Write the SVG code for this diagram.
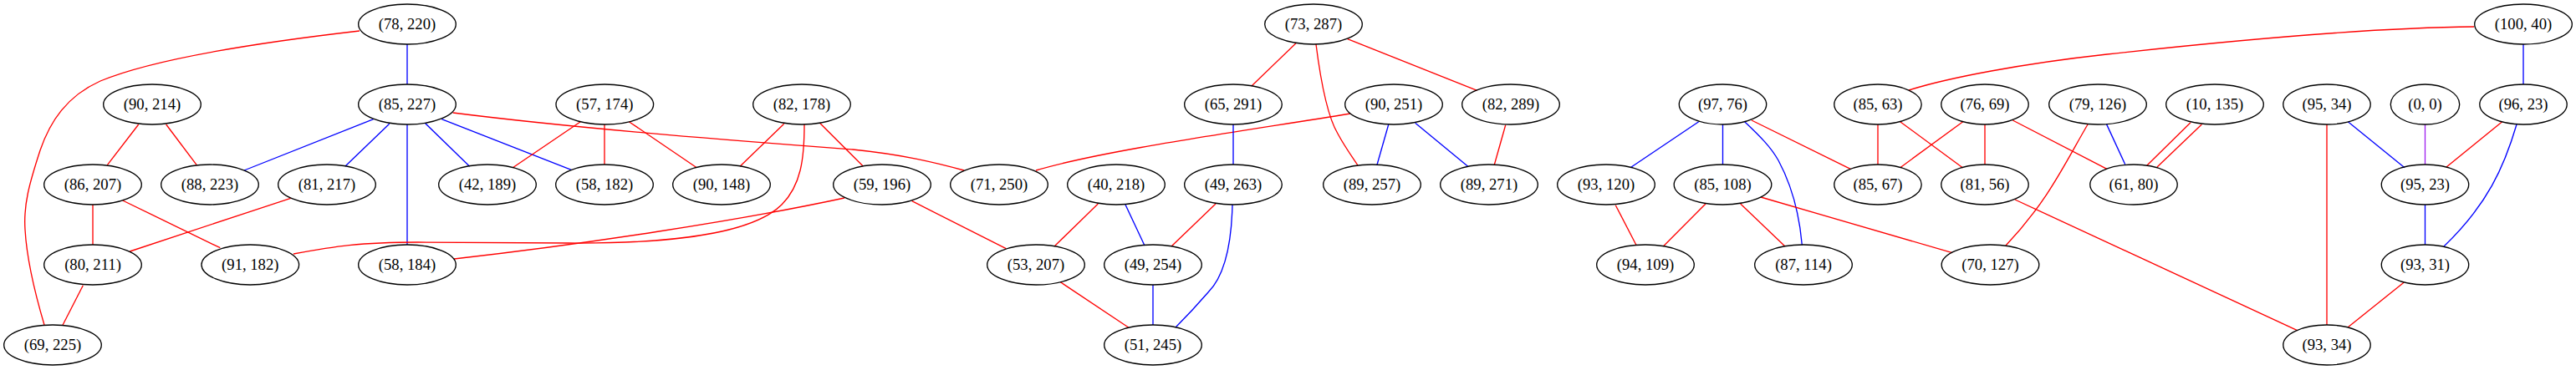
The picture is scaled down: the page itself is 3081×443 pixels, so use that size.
<svg xmlns="http://www.w3.org/2000/svg" width="3081" height="443" viewBox="0 0 3081 443">
<style>
.n ellipse{fill:none;stroke:#000;stroke-width:1.33}
.n text{font-family:"Liberation Serif","Times New Roman",serif;font-size:18.67px;text-anchor:middle;fill:#000}
#edges path{fill:none;stroke-width:1.33}
.r{stroke:#ff0000}
.b{stroke:#0000ff}
.p{stroke:#a020f0}
</style>
<rect x="0" y="0" width="3081" height="443" fill="#fff"/>
<g id="edges">
<path class="b" d="M487,53 L487,101"/>
<path class="r" d="M430,37 C300,52 180,72 120,97 C80,115 60,145 48,180 C35,220 28,245 30,275 C32,310 40,345 53,389"/>
<path class="r" d="M165.7,149 L128.3,197.7"/>
<path class="r" d="M198.7,149 L235.3,197.7"/>
<path class="b" d="M446.7,142.7 L292,204"/>
<path class="b" d="M465.7,148.3 L412.7,199.3"/>
<path class="b" d="M487,149 L487,293"/>
<path class="b" d="M508.3,147.3 L561.7,199.3"/>
<path class="b" d="M528.3,142.7 L683.3,203.3"/>
<path class="r" d="M541.7,135 C700,155 900,170 1020,179 C1080,185 1120,195 1153,204"/>
<path class="r" d="M111,245 L111,293"/>
<path class="r" d="M146.7,240 L263.3,296.7"/>
<path class="r" d="M347.7,237.3 L155.3,301"/>
<path class="r" d="M99.3,341.7 L75,389.3"/>
<path class="r" d="M962,149 C962,190 958,222 935,245 C900,280 800,292 680,291 L500,290 C430,290 400,295 351,304"/>
<path class="r" d="M543,310 C700,292 880,265 1010,237"/>
<path class="r" d="M694.3,145.7 L613.3,200.7"/>
<path class="r" d="M723,149 L723,197"/>
<path class="r" d="M752.3,145.7 L833.3,200.7"/>
<path class="r" d="M937.7,148.3 L885,199.3"/>
<path class="r" d="M981,147.7 L1032.3,199"/>
<path class="r" d="M1090.7,240.7 L1203.3,297.7"/>
<path class="r" d="M1615,136 C1480,158 1320,180 1239,204"/>
<path class="r" d="M1313.3,244 L1261,295"/>
<path class="b" d="M1346,245 L1369,294"/>
<path class="r" d="M1454,244 L1401,295"/>
<path class="b" d="M1474,245 C1473,290 1465,330 1445,350 C1432,365 1420,378 1406,392"/>
<path class="b" d="M1379,341 L1379,389"/>
<path class="r" d="M1268.3,337.7 L1350,392.3"/>
<path class="b" d="M1475,149 L1475,197"/>
<path class="r" d="M1550,51.7 L1496.7,103.3"/>
<path class="r" d="M1574,53 C1580,100 1588,140 1600,160 C1608,175 1616,186 1624,198"/>
<path class="r" d="M1611.7,46.7 L1766.7,108.3"/>
<path class="b" d="M1660.7,149.3 L1647,197.3"/>
<path class="b" d="M1692.7,147.3 L1755.7,199.3"/>
<path class="r" d="M1800.7,149.7 L1787.3,197.3"/>
<path class="b" d="M2031.7,145.7 L1950,200.7"/>
<path class="r" d="M1932.3,245.7 L1957.3,294"/>
<path class="r" d="M2040,244 L1989.3,295"/>
<path class="b" d="M2060.5,149 L2060.5,197"/>
<path class="b" d="M2086.7,145.7 C2105,163 2118,176 2127,192 C2142,220 2152,255 2155.3,293.3"/>
<path class="r" d="M2095,144 L2213.3,202.3"/>
<path class="r" d="M2081.7,244 L2135,295"/>
<path class="r" d="M2106,236 L2335,302.7"/>
<path class="r" d="M2959,32 C2850,33 2700,45 2520,65 C2420,76 2330,93 2283,108"/>
<path class="r" d="M2246,149 L2246,197"/>
<path class="r" d="M2272.7,145.7 L2347.7,201"/>
<path class="r" d="M2347.7,145.7 L2272.7,200.7"/>
<path class="r" d="M2374,149 L2374,197"/>
<path class="r" d="M2407.3,144 L2520,202.3"/>
<path class="b" d="M2519.5,148.6 L2541.7,196.7"/>
<path class="r" d="M2497,149 C2470,195 2450,240 2399,294"/>
<path class="r" d="M2410,239 L2747.7,395.7"/>
<path class="r" d="M2620,146.7 L2567.7,198.3"/>
<path class="r" d="M2633.3,149 L2580,200"/>
<path class="r" d="M2783,149 L2783,389"/>
<path class="b" d="M2808.3,145.7 L2876,200.7"/>
<path class="p" d="M2900.5,149 L2900.5,197"/>
<path class="r" d="M2992.7,145.7 L2926,200"/>
<path class="b" d="M3010,149 C2995,200 2975,245 2923,295"/>
<path class="b" d="M2900.5,245 L2900.5,293"/>
<path class="r" d="M2875,338.3 L2808.3,391.7"/>
<path class="b" d="M3018,53 L3018,101"/>
</g>
<g id="n1" class="n"><ellipse cx="487" cy="29" rx="58.3" ry="24"/><text x="487" y="34.5">(78, 220)</text></g>
<g id="n2" class="n"><ellipse cx="487" cy="125" rx="58.3" ry="24"/><text x="487" y="130.5">(85, 227)</text></g>
<g id="n3" class="n"><ellipse cx="182" cy="125" rx="58.3" ry="24"/><text x="182" y="130.5">(90, 214)</text></g>
<g id="n4" class="n"><ellipse cx="111" cy="221" rx="58.3" ry="24"/><text x="111" y="226.5">(86, 207)</text></g>
<g id="n5" class="n"><ellipse cx="251" cy="221" rx="58.3" ry="24"/><text x="251" y="226.5">(88, 223)</text></g>
<g id="n6" class="n"><ellipse cx="391" cy="221" rx="58.3" ry="24"/><text x="391" y="226.5">(81, 217)</text></g>
<g id="n7" class="n"><ellipse cx="111" cy="317" rx="58.3" ry="24"/><text x="111" y="322.5">(80, 211)</text></g>
<g id="n8" class="n"><ellipse cx="299.3" cy="317" rx="58.3" ry="24"/><text x="299.3" y="322.5">(91, 182)</text></g>
<g id="n9" class="n"><ellipse cx="487" cy="317" rx="58.3" ry="24"/><text x="487" y="322.5">(58, 184)</text></g>
<g id="n10" class="n"><ellipse cx="63" cy="413" rx="58.3" ry="24"/><text x="63" y="418.5">(69, 225)</text></g>
<g id="n11" class="n"><ellipse cx="723.3" cy="125" rx="58.3" ry="24"/><text x="723.3" y="130.5">(57, 174)</text></g>
<g id="n12" class="n"><ellipse cx="959" cy="125" rx="58.3" ry="24"/><text x="959" y="130.5">(82, 178)</text></g>
<g id="n13" class="n"><ellipse cx="583" cy="221" rx="58.3" ry="24"/><text x="583" y="226.5">(42, 189)</text></g>
<g id="n14" class="n"><ellipse cx="723" cy="221" rx="58.3" ry="24"/><text x="723" y="226.5">(58, 182)</text></g>
<g id="n15" class="n"><ellipse cx="863" cy="221" rx="58.3" ry="24"/><text x="863" y="226.5">(90, 148)</text></g>
<g id="n16" class="n"><ellipse cx="1055" cy="221" rx="58.3" ry="24"/><text x="1055" y="226.5">(59, 196)</text></g>
<g id="n17" class="n"><ellipse cx="1195" cy="221" rx="58.3" ry="24"/><text x="1195" y="226.5">(71, 250)</text></g>
<g id="n18" class="n"><ellipse cx="1335" cy="221" rx="58.3" ry="24"/><text x="1335" y="226.5">(40, 218)</text></g>
<g id="n19" class="n"><ellipse cx="1475" cy="221" rx="58.3" ry="24"/><text x="1475" y="226.5">(49, 263)</text></g>
<g id="n20" class="n"><ellipse cx="1475" cy="125" rx="58.3" ry="24"/><text x="1475" y="130.5">(65, 291)</text></g>
<g id="n21" class="n"><ellipse cx="1239" cy="317" rx="58.3" ry="24"/><text x="1239" y="322.5">(53, 207)</text></g>
<g id="n22" class="n"><ellipse cx="1379" cy="317" rx="58.3" ry="24"/><text x="1379" y="322.5">(49, 254)</text></g>
<g id="n23" class="n"><ellipse cx="1379" cy="413" rx="58.3" ry="24"/><text x="1379" y="418.5">(51, 245)</text></g>
<g id="n24" class="n"><ellipse cx="1571" cy="29" rx="58.3" ry="24"/><text x="1571" y="34.5">(73, 287)</text></g>
<g id="n25" class="n"><ellipse cx="1667" cy="125" rx="58.3" ry="24"/><text x="1667" y="130.5">(90, 251)</text></g>
<g id="n26" class="n"><ellipse cx="1807" cy="125" rx="58.3" ry="24"/><text x="1807" y="130.5">(82, 289)</text></g>
<g id="n27" class="n"><ellipse cx="1641" cy="221" rx="58.3" ry="24"/><text x="1641" y="226.5">(89, 257)</text></g>
<g id="n28" class="n"><ellipse cx="1781" cy="221" rx="58.3" ry="24"/><text x="1781" y="226.5">(89, 271)</text></g>
<g id="n29" class="n"><ellipse cx="1921" cy="221" rx="58.3" ry="24"/><text x="1921" y="226.5">(93, 120)</text></g>
<g id="n30" class="n"><ellipse cx="1968" cy="317" rx="58.3" ry="24"/><text x="1968" y="322.5">(94, 109)</text></g>
<g id="n31" class="n"><ellipse cx="2060.5" cy="125" rx="52.2" ry="24"/><text x="2060.5" y="130.5">(97, 76)</text></g>
<g id="n32" class="n"><ellipse cx="2060.5" cy="221" rx="58.3" ry="24"/><text x="2060.5" y="226.5">(85, 108)</text></g>
<g id="n33" class="n"><ellipse cx="2157" cy="317" rx="58.3" ry="24"/><text x="2157" y="322.5">(87, 114)</text></g>
<g id="n34" class="n"><ellipse cx="2246" cy="125" rx="52.2" ry="24"/><text x="2246" y="130.5">(85, 63)</text></g>
<g id="n35" class="n"><ellipse cx="2374" cy="125" rx="52.2" ry="24"/><text x="2374" y="130.5">(76, 69)</text></g>
<g id="n36" class="n"><ellipse cx="2509" cy="125" rx="58.3" ry="24"/><text x="2509" y="130.5">(79, 126)</text></g>
<g id="n37" class="n"><ellipse cx="2246" cy="221" rx="52.2" ry="24"/><text x="2246" y="226.5">(85, 67)</text></g>
<g id="n38" class="n"><ellipse cx="2374" cy="221" rx="52.2" ry="24"/><text x="2374" y="226.5">(81, 56)</text></g>
<g id="n39" class="n"><ellipse cx="2380.5" cy="317" rx="58.3" ry="24"/><text x="2380.5" y="322.5">(70, 127)</text></g>
<g id="n40" class="n"><ellipse cx="2552" cy="221" rx="52.2" ry="24"/><text x="2552" y="226.5">(61, 80)</text></g>
<g id="n41" class="n"><ellipse cx="2649" cy="125" rx="58.3" ry="24"/><text x="2649" y="130.5">(10, 135)</text></g>
<g id="n42" class="n"><ellipse cx="2783" cy="125" rx="52.2" ry="24"/><text x="2783" y="130.5">(95, 34)</text></g>
<g id="n43" class="n"><ellipse cx="2900.5" cy="125" rx="41.2" ry="24"/><text x="2900.5" y="130.5">(0, 0)</text></g>
<g id="n44" class="n"><ellipse cx="3018" cy="125" rx="52.2" ry="24"/><text x="3018" y="130.5">(96, 23)</text></g>
<g id="n45" class="n"><ellipse cx="3018" cy="29" rx="58.3" ry="24"/><text x="3018" y="34.5">(100, 40)</text></g>
<g id="n46" class="n"><ellipse cx="2900.5" cy="221" rx="52.2" ry="24"/><text x="2900.5" y="226.5">(95, 23)</text></g>
<g id="n47" class="n"><ellipse cx="2900.5" cy="317" rx="52.2" ry="24"/><text x="2900.5" y="322.5">(93, 31)</text></g>
<g id="n48" class="n"><ellipse cx="2783" cy="413" rx="52.2" ry="24"/><text x="2783" y="418.5">(93, 34)</text></g>
</svg>
